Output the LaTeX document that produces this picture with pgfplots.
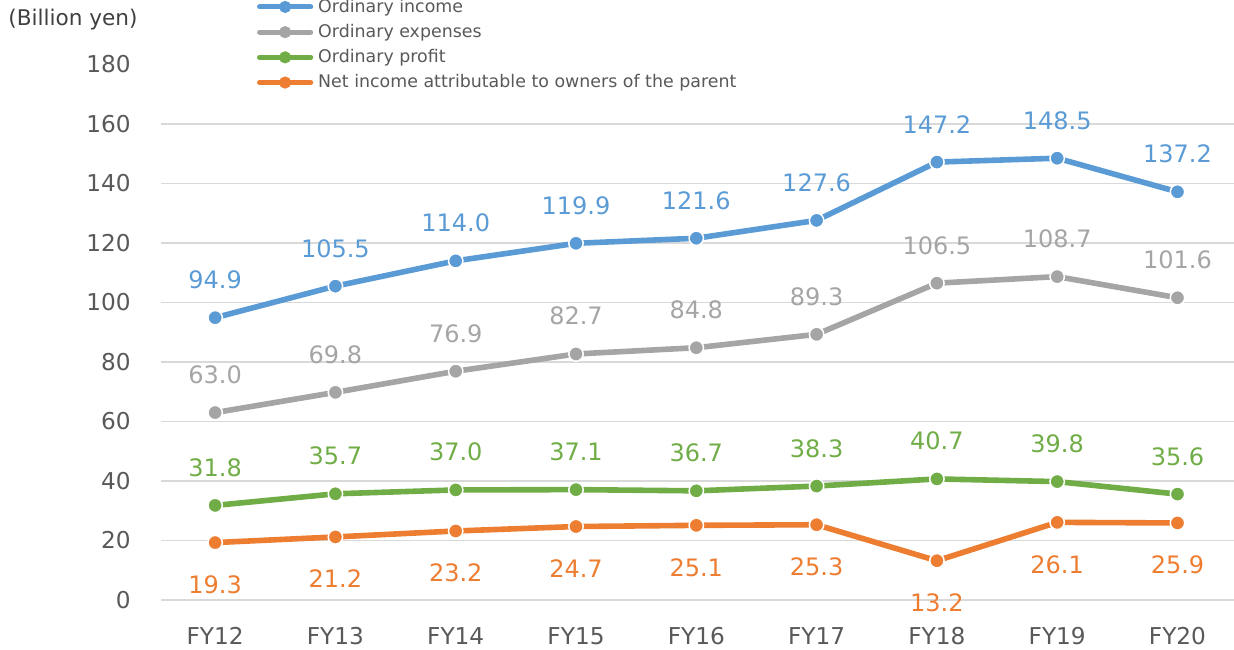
\documentclass[border=0pt]{standalone}
\usepackage{pgfplots}
\pgfplotsset{compat=1.18}
\usepackage{fontspec}
\setmainfont{DejaVu Sans}
\definecolor{cBlue}{HTML}{5B9BD5}
\definecolor{cGray}{HTML}{A5A5A5}
\definecolor{cGreen}{HTML}{70AD47}
\definecolor{cOrange}{HTML}{ED7D31}
\definecolor{cGrid}{HTML}{D9D9D9}
\definecolor{cText}{HTML}{595959}
\begin{document}
\begin{tikzpicture}[x=1pt,y=1pt]
\begin{axis}[
  at={(0,0)}, anchor=south west,
  scale only axis, width=536.5pt, height=267.75pt,
  xmin=-0.45, xmax=8.47, ymin=0, ymax=180,
  xtick={0,...,8},
  xticklabels={FY12,FY13,FY14,FY15,FY16,FY17,FY18,FY19,FY20},
  ytick={0,20,...,160}, extra y ticks={180},
  extra y tick style={grid=none},
  ymajorgrids, grid style={draw=cGrid, line width=0.75pt},
  axis line style={draw=none}, major tick length=0pt,
  tick label style={font=\fontsize{11.6}{13}\selectfont, text=cText},
  /pgf/number format/assume math mode=true,
  yticklabel style={anchor=east, inner sep=0pt, xshift=-15pt},
  xticklabel style={anchor=base, inner sep=0pt, yshift=-22pt},
  every axis plot/.append style={line width=2.8pt, mark=*, mark size=3.6pt},
  nodes near coords,
  nodes near coords style={font=\fontsize{12}{14}\selectfont, inner sep=0pt, anchor=base,
    /pgf/number format/fixed, /pgf/number format/fixed zerofill,
    /pgf/number format/precision=1, /pgf/number format/assume math mode=true},
  legend image code/.code={
    \draw[#1, mark=none, line width=2.5pt, line cap=round] (1.2pt,0pt) -- (26.8pt,0pt);
    \draw[#1, mark size=2.3pt, mark options={line width=1.4pt}] plot coordinates {(14pt,0pt)};
  },
  legend style={draw=none, fill=none, at={(0.0895,1.131)}, anchor=north west,
    inner sep=0pt, outer sep=0pt, row sep=0pt,
    nodes={inner sep=0pt, text=cText, font=\fontsize{8.7}{10}\selectfont, minimum height=12.6pt},
    /tikz/every odd column/.style={column sep=2.5pt}},
  legend cell align=left,
]
\addplot[color=cBlue, mark options={fill=cBlue, draw=white, line width=0.75pt},
  every node near coord/.append style={text=cBlue, yshift=14.5pt}]
  coordinates {(0,94.9) (1,105.5) (2,114.0) (3,119.9) (4,121.6) (5,127.6) (6,147.2) (7,148.5) (8,137.2)};
\addlegendentry{Ordinary income}
\addplot[color=cGray, mark options={fill=cGray, draw=white, line width=0.75pt},
  every node near coord/.append style={text=cGray, yshift=14.5pt}]
  coordinates {(0,63.0) (1,69.8) (2,76.9) (3,82.7) (4,84.8) (5,89.3) (6,106.5) (7,108.7) (8,101.6)};
\addlegendentry{Ordinary expenses}
\addplot[color=cGreen, mark options={fill=cGreen, draw=white, line width=0.75pt},
  every node near coord/.append style={text=cGreen, yshift=14.5pt}]
  coordinates {(0,31.8) (1,35.7) (2,37.0) (3,37.1) (4,36.7) (5,38.3) (6,40.7) (7,39.8) (8,35.6)};
\addlegendentry{Ordinary profit}
\addplot[color=cOrange, mark options={fill=cOrange, draw=white, line width=0.75pt},
  every node near coord/.append style={text=cOrange, yshift=-25.5pt}]
  coordinates {(0,19.3) (1,21.2) (2,23.2) (3,24.7) (4,25.1) (5,25.3) (6,13.2) (7,26.1) (8,25.9)};
\addlegendentry{Net income attributable to owners of the parent}
\end{axis}
\node[anchor=west, inner sep=0pt, text=black!75, font=\fontsize{10.8}{12}\selectfont] at (-76.5,290) {(Billion yen)};
\pgfresetboundingbox
\useasboundingbox (-80.5,-24.5) rectangle (536.5,300);
\end{tikzpicture}
\end{document}
